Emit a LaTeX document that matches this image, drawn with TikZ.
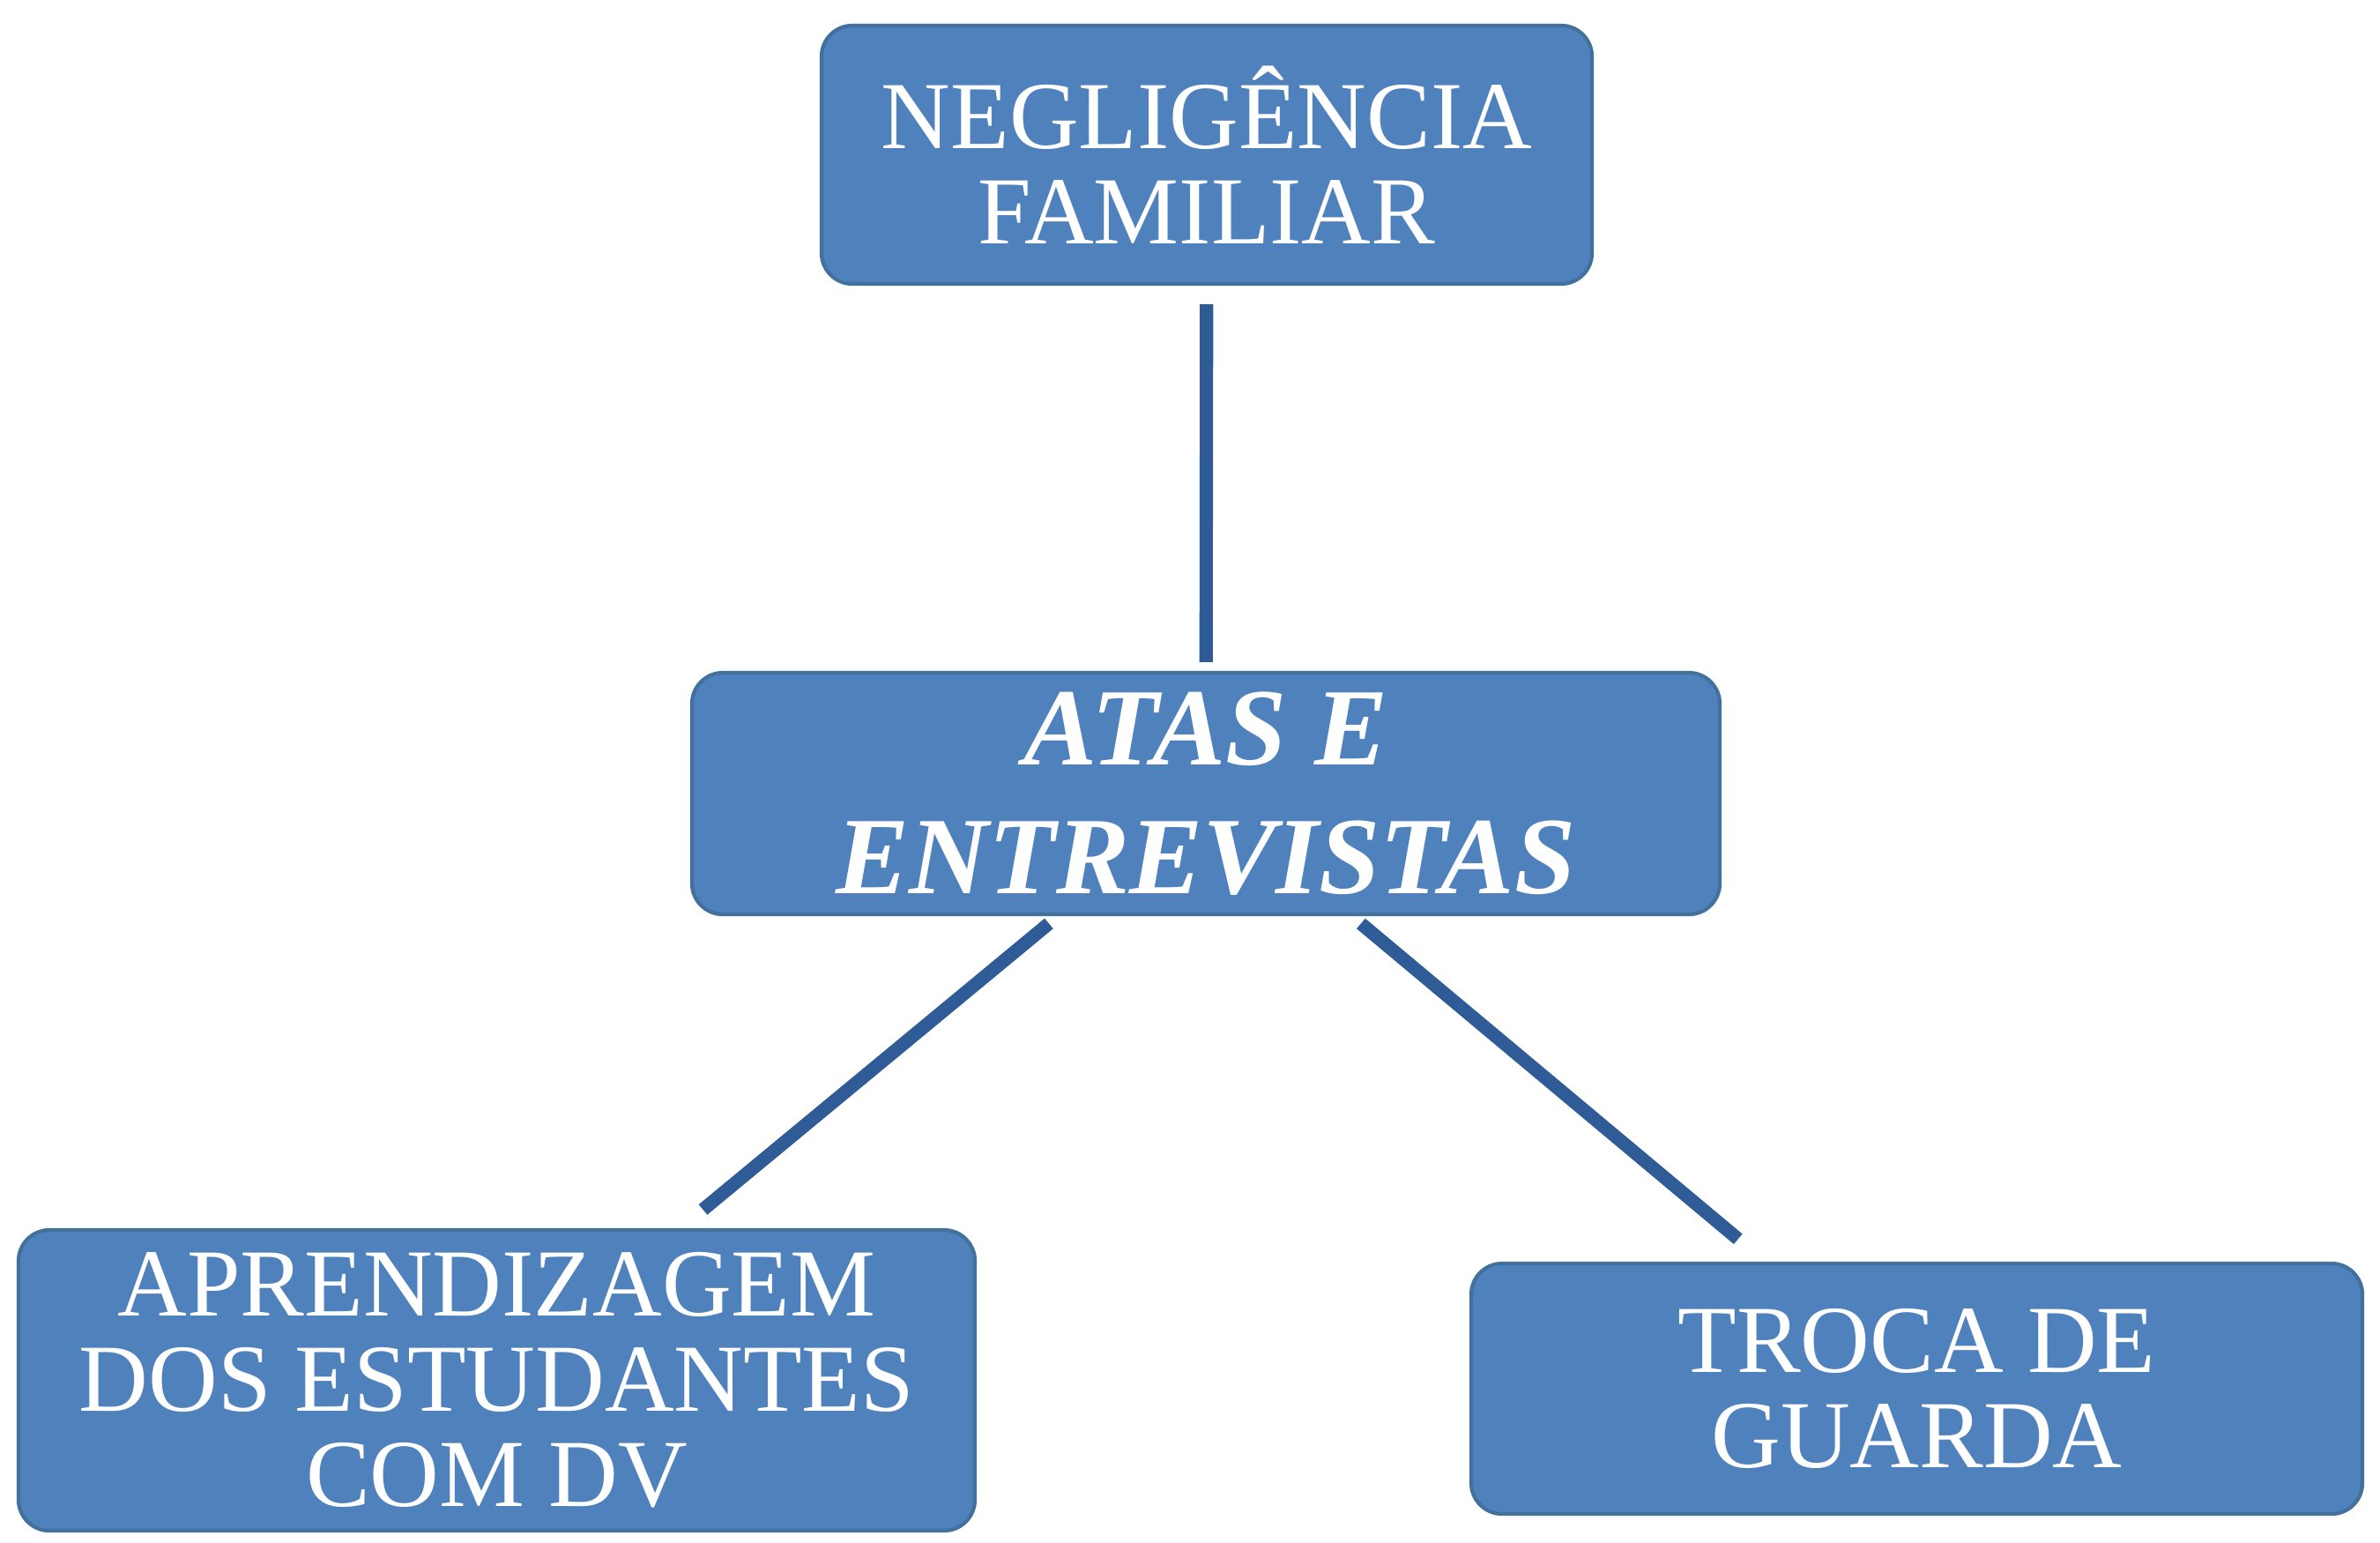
\documentclass[tikz,border=0pt]{standalone}
\usepackage{fontspec}
\setmainfont{Liberation Serif}
\definecolor{boxfill}{HTML}{4F81BD}
\definecolor{boxline}{HTML}{41719C}
\definecolor{connline}{HTML}{2F5C97}
\definecolor{connedge}{HTML}{24508A}
\tikzset{
  boxnode/.style={draw=boxline, line width=1.2pt, fill=boxfill, rounded corners=0.35cm,
    text=white, align=center, inner sep=0pt, font=\fontsize{31}{30.7}\selectfont},
  midnode/.style={boxnode, font=\fontsize{35.5}{41.5}\selectfont\bfseries\itshape},
  connector/.style={draw=connline, line width=4.3pt, line cap=butt}
}
\begin{document}
\begin{tikzpicture}
\useasboundingbox (0,0) rectangle (27,-17.49);
\fill[white] (0,0) rectangle (27,-17.49);
\node[boxnode, minimum width=8.74cm, minimum height=2.93cm] (top) at (13.69,-1.755) {NEGLIGÊNCIA\\FAMILIAR};
\node[midnode, minimum width=11.66cm, minimum height=2.74cm] (mid) at (13.68,-9.00) {ATAS E\\ENTREVISTAS};
\node[boxnode, minimum width=10.85cm, minimum height=3.41cm] (bl) at (5.635,-15.655) {APRENDIZAGEM\\DOS ESTUDANTES\\COM DV};
\node[boxnode, minimum width=10.11cm, minimum height=2.84cm] (br) at (21.745,-15.75) {TROCA DE\\GUARDA};
\draw[connector, shorten <=0.21cm, shorten >=0.10cm] (top) -- (mid);
\draw[connector, shorten <=0.13cm, shorten >=0.33cm] (mid) -- (bl);
\draw[connector, shorten <=0.13cm, shorten >=0.40cm] (mid) -- (br);
\end{tikzpicture}
\end{document}
